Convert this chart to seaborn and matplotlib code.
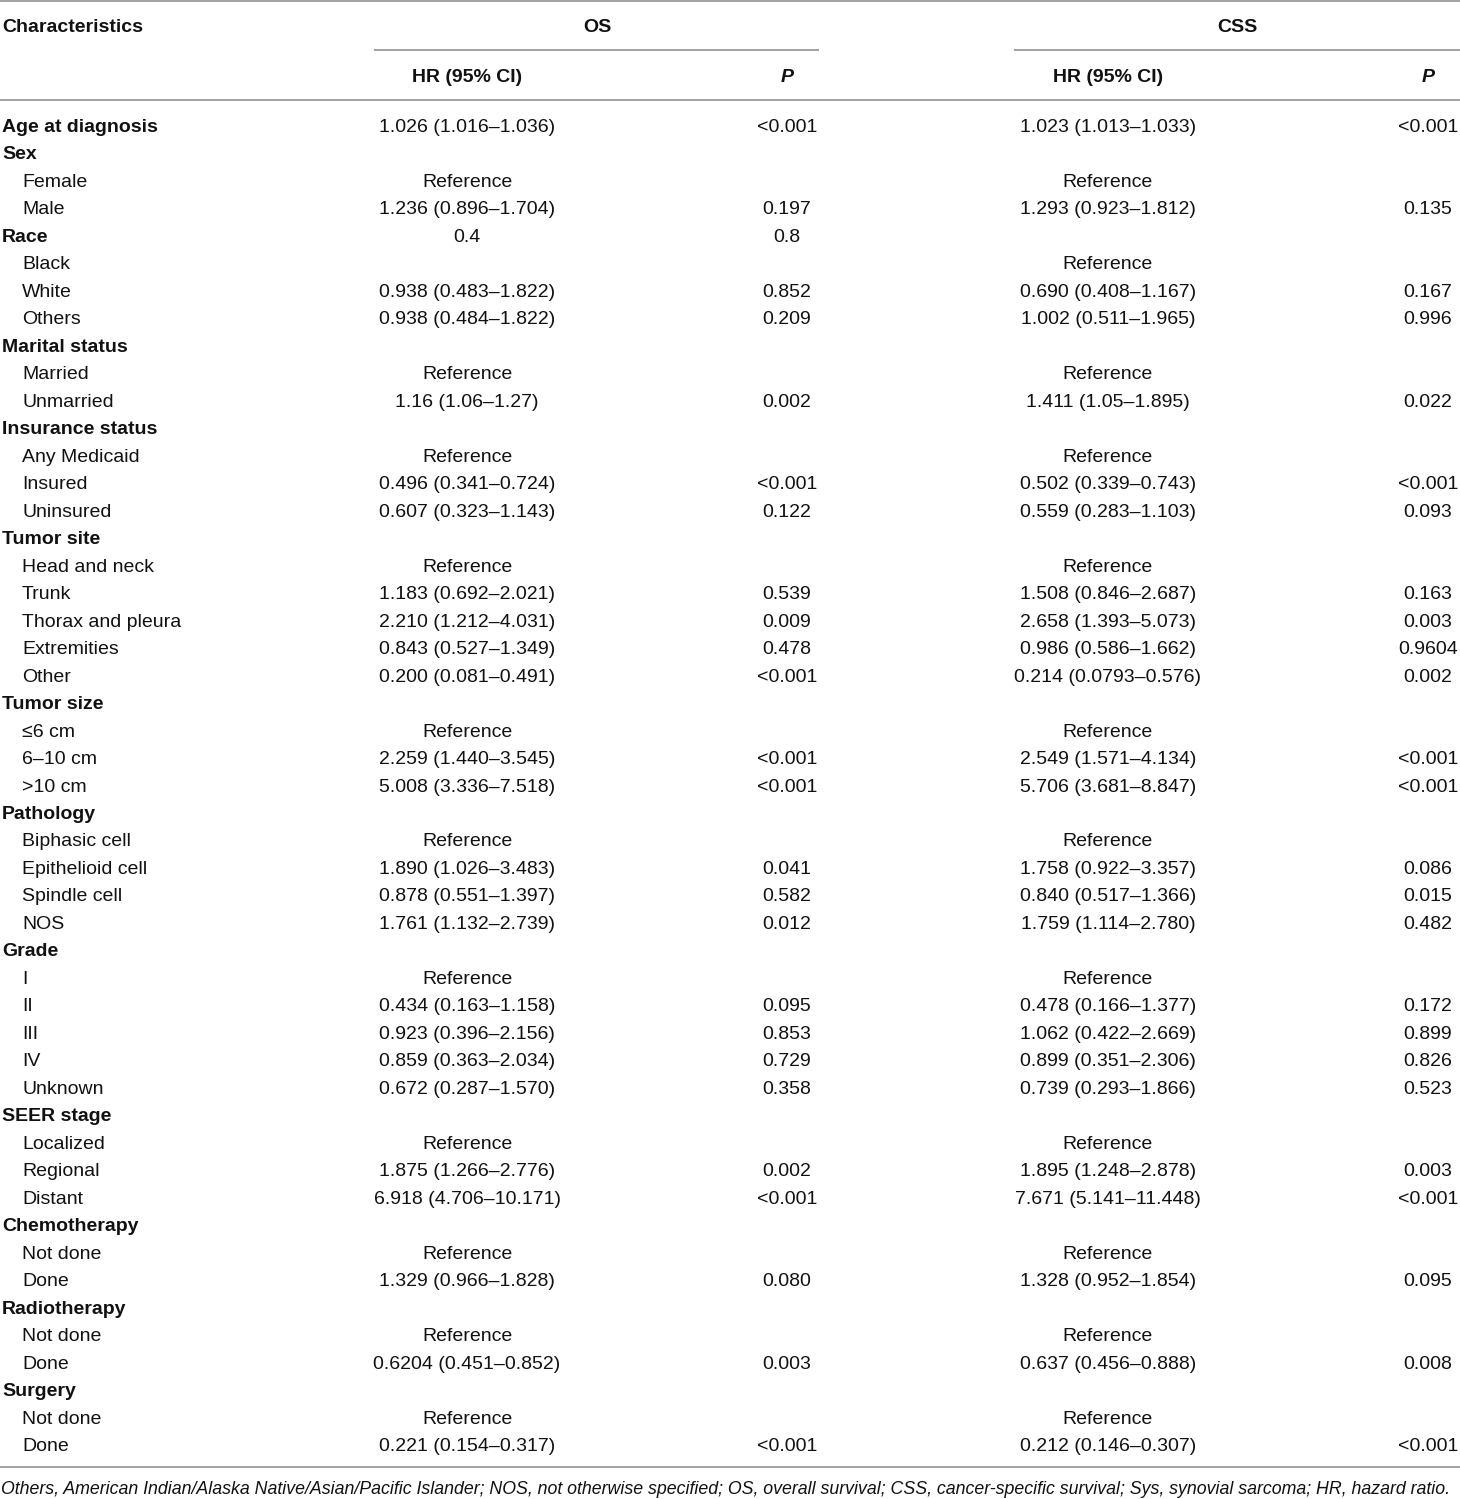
import matplotlib
matplotlib.use("Agg")
import matplotlib.pyplot as plt
import seaborn as sns

sns.set_theme(style="white")
plt.rcParams['font.family'] = ['Liberation Sans', 'DejaVu Sans']

labels = ["Age at diagnosis", "Sex", "Female", "Male", "Race", "Black", "White", "Others",
          "Marital status", "Married", "Unmarried", "Insurance status", "Any Medicaid", "Insured",
          "Uninsured", "Tumor site", "Head and neck", "Trunk", "Thorax and pleura", "Extremities",
          "Other", "Tumor size", "≤6 cm", "6–10 cm", ">10 cm", "Pathology", "Biphasic cell",
          "Epithelioid cell", "Spindle cell", "NOS", "Grade", "I", "II", "III", "IV", "Unknown",
          "SEER stage", "Localized", "Regional", "Distant", "Chemotherapy", "Not done", "Done",
          "Radiotherapy", "Not done", "Done", "Surgery", "Not done", "Done"]

bold_rows = ["Age at diagnosis", "Sex", "Race", "Marital status", "Insurance status", "Tumor site",
             "Tumor size", "Pathology", "Grade", "SEER stage", "Chemotherapy", "Radiotherapy", "Surgery"]

os_hr = ["1.026 (1.016–1.036)", "", "Reference", "1.236 (0.896–1.704)", "0.4", "", "0.938 (0.483–1.822)",
         "0.938 (0.484–1.822)", "", "Reference", "1.16 (1.06–1.27)", "", "Reference", "0.496 (0.341–0.724)",
         "0.607 (0.323–1.143)", "", "Reference", "1.183 (0.692–2.021)", "2.210 (1.212–4.031)",
         "0.843 (0.527–1.349)", "0.200 (0.081–0.491)", "", "Reference", "2.259 (1.440–3.545)",
         "5.008 (3.336–7.518)", "", "Reference", "1.890 (1.026–3.483)", "0.878 (0.551–1.397)",
         "1.761 (1.132–2.739)", "", "Reference", "0.434 (0.163–1.158)", "0.923 (0.396–2.156)",
         "0.859 (0.363–2.034)", "0.672 (0.287–1.570)", "", "Reference", "1.875 (1.266–2.776)",
         "6.918 (4.706–10.171)", "", "Reference", "1.329 (0.966–1.828)", "", "Reference",
         "0.6204 (0.451–0.852)", "", "Reference", "0.221 (0.154–0.317)"]

os_p = ["<0.001", "", "", "0.197", "0.8", "", "0.852", "0.209", "", "", "0.002", "", "", "<0.001",
        "0.122", "", "", "0.539", "0.009", "0.478", "<0.001", "", "", "<0.001", "<0.001", "", "",
        "0.041", "0.582", "0.012", "", "", "0.095", "0.853", "0.729", "0.358", "", "", "0.002",
        "<0.001", "", "", "0.080", "", "", "0.003", "", "", "<0.001"]

css_hr = ["1.023 (1.013–1.033)", "", "Reference", "1.293 (0.923–1.812)", "", "Reference",
          "0.690 (0.408–1.167)", "1.002 (0.511–1.965)", "", "Reference", "1.411 (1.05–1.895)", "",
          "Reference", "0.502 (0.339–0.743)", "0.559 (0.283–1.103)", "", "Reference",
          "1.508 (0.846–2.687)", "2.658 (1.393–5.073)", "0.986 (0.586–1.662)", "0.214 (0.0793–0.576)",
          "", "Reference", "2.549 (1.571–4.134)", "5.706 (3.681–8.847)", "", "Reference",
          "1.758 (0.922–3.357)", "0.840 (0.517–1.366)", "1.759 (1.114–2.780)", "", "Reference",
          "0.478 (0.166–1.377)", "1.062 (0.422–2.669)", "0.899 (0.351–2.306)", "0.739 (0.293–1.866)",
          "", "Reference", "1.895 (1.248–2.878)", "7.671 (5.141–11.448)", "", "Reference",
          "1.328 (0.952–1.854)", "", "Reference", "0.637 (0.456–0.888)", "", "Reference",
          "0.212 (0.146–0.307)"]

css_p = ["<0.001", "", "", "0.135", "", "", "0.167", "0.996", "", "", "0.022", "", "", "<0.001",
         "0.093", "", "", "0.163", "0.003", "0.9604", "0.002", "", "", "<0.001", "<0.001", "", "",
         "0.086", "0.015", "0.482", "", "", "0.172", "0.899", "0.826", "0.523", "", "", "0.003",
         "<0.001", "", "", "0.095", "", "", "0.008", "", "", "<0.001"]

groups = ["OS", "CSS"]
subheaders = ["HR (95% CI)", "P"]
footnote = ("Others, American Indian/Alaska Native/Asian/Pacific Islander; NOS, not otherwise specified; "
            "OS, overall survival; CSS, cancer-specific survival; Sys, synovial sarcoma; HR, hazard ratio.")

W, H = 1460, 1499
fig = plt.figure(figsize=(W / 100, H / 100), dpi=100)
ax = fig.add_axes([0, 0, 1, 1])
ax.set_xlim(0, W)
ax.set_ylim(H, 0)
ax.axis("off")

txt = "#111111"
line_c = "#9a9a9a"
fs = 14

# column layout
x_label, x_indent = 2, 22
hr_x = [467, 1108]
p_x = [787, 1428]
grp_x = [597, 1237]
grp_line = [(374, 819), (1014, 1460)]

ax.hlines(1, 0, W, color=line_c, lw=1.3)
ax.text(x_label, 27.5, "Characteristics", fontsize=fs, fontweight="bold", color=txt, va="center", ha="left")
for g, gx, (l0, l1), hx, px in zip(groups, grp_x, grp_line, hr_x, p_x):
    ax.text(gx, 27.5, g, fontsize=fs, fontweight="bold", color=txt, va="center", ha="center")
    ax.hlines(50, l0, l1, color=line_c, lw=1.3)
    ax.text(hx, 77.5, subheaders[0], fontsize=fs, fontweight="bold", color=txt, va="center", ha="center")
    ax.text(px, 77.5, subheaders[1], fontsize=fs, fontweight="bold", fontstyle="italic", color=txt,
            va="center", ha="center")
ax.hlines(100, 0, W, color=line_c, lw=1.3)

y0, dy = 127.5, 27.48
for i, lab in enumerate(labels):
    y = y0 + i * dy
    is_bold = (lab in bold_rows) and (os_hr[i] == "" or lab == "Age at diagnosis" or lab == "Race")
    if is_bold:
        ax.text(x_label, y, lab, fontsize=fs, fontweight="bold", color=txt, va="center", ha="left")
    else:
        ax.text(x_indent, y, lab, fontsize=fs, color=txt, va="center", ha="left")
    for vals, xs in ((os_hr, hr_x[0]), (os_p, p_x[0]), (css_hr, hr_x[1]), (css_p, p_x[1])):
        if vals[i]:
            ax.text(xs, y, vals[i], fontsize=fs, color=txt, va="center", ha="center")

ax.hlines(1467, 0, W, color=line_c, lw=1.3)
ax.text(1, 1489.5, footnote, fontsize=12.8, fontstyle="italic", color=txt, va="center", ha="left")

fig.savefig("out.png", dpi=100, facecolor="white")
